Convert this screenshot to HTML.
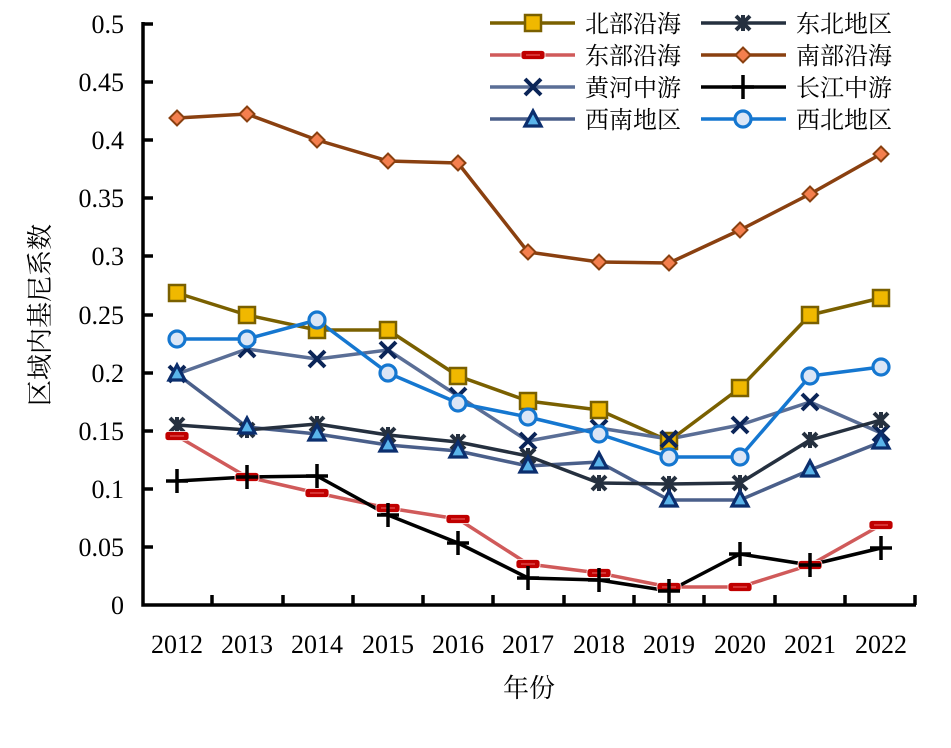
<!DOCTYPE html><html><head><style>body{margin:0;background:#fff}svg{display:block}text{font-family:"Liberation Serif","Noto Serif CJK SC",serif}</style></head><body>
<svg width="951" height="748" viewBox="0 0 951 748" xmlns="http://www.w3.org/2000/svg">
<defs>
<g id="sq"><rect x="-8" y="-8" width="16" height="16" fill="#f0b800" stroke="#7a6000" stroke-width="2.5"/></g>
<g id="dash"><rect x="-12" y="-4.5" width="24" height="9" rx="3" fill="#c00000" stroke="#fff" stroke-width="0.8"/><line x1="-7" y1="0" x2="7" y2="0" stroke="#ee6666" stroke-width="1"/></g>
<g id="dia"><polygon points="0,-7.5 7.5,0 0,7.5 -7.5,0" fill="#f47f4e" stroke="#8a4010" stroke-width="2"/></g>
<g id="xx"><path d="M-8,-8L8,8M8,-8L-8,8" stroke="#0b2558" stroke-width="4"/></g>
<g id="tri"><polygon points="0,-9 8,6 -8,6" fill="#5ab4ea" stroke="#0b2e6e" stroke-width="3.2"/></g>
<g id="ast"><path d="M-7,-7L7,7M7,-7L-7,7M0,-8V8" stroke="#25303f" stroke-width="4"/></g>
<g id="plus"><path d="M-11,0H11M0,-12V12" stroke="#000" stroke-width="3.5"/></g>
<g id="cir"><circle r="8" fill="#dbe6f6" stroke="#1577d0" stroke-width="3.2"/></g>
</defs>
<g fill="none" stroke-width="3.5" stroke-linejoin="round">
<polyline stroke="#7a6000" points="177,293 247,315 317,330 388,330 458,376 528,401 599,410 669,441 740,388 810,315 881,298"/>
<polyline stroke="#d05a5a" points="177,436 247,477 317,493 388,508 458,519 528,564 599,573 669,587 740,587 810,565 881,525"/>
<polyline stroke="#8a4010" points="177,118 247,114 317,140 388,161 458,163 528,252 599,262 669,263 740,230 810,194 881,154"/>
<polyline stroke="#5a6e96" points="177,374 247,349 317,359 388,350 458,396 528,441 599,428 669,439 740,425 810,402 881,433"/>
<polyline stroke="#4a5f8a" points="177,374 247,427 317,434 388,445 458,451 528,466 599,462 669,500 740,500 810,470 881,442"/>
<polyline stroke="#25303f" points="177,425 247,430 317,424 388,435 458,442 528,456 599,483 669,484 740,483 810,440 881,420"/>
<polyline stroke="#000" points="177,481 247,477 317,476 388,515 458,543 528,578 599,580 669,591 740,554 810,565 881,548"/>
<polyline stroke="#1577d0" points="177,339 247,339 317,320 388,373 458,403 528,417 599,434 669,457 740,457 810,376 881,367"/>
</g>
<g>
<use href="#sq" x="177" y="293"/><use href="#sq" x="247" y="315"/><use href="#sq" x="317" y="330"/><use href="#sq" x="388" y="330"/><use href="#sq" x="458" y="376"/><use href="#sq" x="528" y="401"/><use href="#sq" x="599" y="410"/><use href="#sq" x="669" y="441"/><use href="#sq" x="740" y="388"/><use href="#sq" x="810" y="315"/><use href="#sq" x="881" y="298"/>
<use href="#dia" x="177" y="118"/><use href="#dia" x="247" y="114"/><use href="#dia" x="317" y="140"/><use href="#dia" x="388" y="161"/><use href="#dia" x="458" y="163"/><use href="#dia" x="528" y="252"/><use href="#dia" x="599" y="262"/><use href="#dia" x="669" y="263"/><use href="#dia" x="740" y="230"/><use href="#dia" x="810" y="194"/><use href="#dia" x="881" y="154"/>
<use href="#xx" x="177" y="374"/><use href="#xx" x="247" y="349"/><use href="#xx" x="317" y="359"/><use href="#xx" x="388" y="350"/><use href="#xx" x="458" y="396"/><use href="#xx" x="528" y="441"/><use href="#xx" x="599" y="428"/><use href="#xx" x="669" y="439"/><use href="#xx" x="740" y="425"/><use href="#xx" x="810" y="402"/><use href="#xx" x="881" y="433"/>
<use href="#ast" x="177" y="425"/><use href="#ast" x="247" y="430"/><use href="#ast" x="317" y="424"/><use href="#ast" x="388" y="435"/><use href="#ast" x="458" y="442"/><use href="#ast" x="528" y="456"/><use href="#ast" x="599" y="483"/><use href="#ast" x="669" y="484"/><use href="#ast" x="740" y="483"/><use href="#ast" x="810" y="440"/><use href="#ast" x="881" y="420"/>
<use href="#tri" x="177" y="374"/><use href="#tri" x="247" y="427"/><use href="#tri" x="317" y="434"/><use href="#tri" x="388" y="445"/><use href="#tri" x="458" y="451"/><use href="#tri" x="528" y="466"/><use href="#tri" x="599" y="462"/><use href="#tri" x="669" y="500"/><use href="#tri" x="740" y="500"/><use href="#tri" x="810" y="470"/><use href="#tri" x="881" y="442"/>
<use href="#dash" x="177" y="436"/><use href="#dash" x="247" y="477"/><use href="#dash" x="317" y="493"/><use href="#dash" x="388" y="508"/><use href="#dash" x="458" y="519"/><use href="#dash" x="528" y="564"/><use href="#dash" x="599" y="573"/><use href="#dash" x="669" y="587"/><use href="#dash" x="740" y="587"/><use href="#dash" x="810" y="565"/><use href="#dash" x="881" y="525"/>
<use href="#plus" x="177" y="481"/><use href="#plus" x="247" y="477"/><use href="#plus" x="317" y="476"/><use href="#plus" x="388" y="515"/><use href="#plus" x="458" y="543"/><use href="#plus" x="528" y="578"/><use href="#plus" x="599" y="580"/><use href="#plus" x="669" y="591"/><use href="#plus" x="740" y="554"/><use href="#plus" x="810" y="565"/><use href="#plus" x="881" y="548"/>
<use href="#cir" x="177" y="339"/><use href="#cir" x="247" y="339"/><use href="#cir" x="317" y="320"/><use href="#cir" x="388" y="373"/><use href="#cir" x="458" y="403"/><use href="#cir" x="528" y="417"/><use href="#cir" x="599" y="434"/><use href="#cir" x="669" y="457"/><use href="#cir" x="740" y="457"/><use href="#cir" x="810" y="376"/><use href="#cir" x="881" y="367"/>
</g>
<g stroke="#000" stroke-width="3.5" fill="none">
<path d="M143,22V605H916"/>
<path d="M143,547h10M143,489h10M143,431h10M143,373h10M143,315h10M143,256h10M143,198h10M143,140h10M143,82h10M143,24h10"/>
<path d="M212,605v-10M283,605v-10M353,605v-10M423,605v-10M493,605v-10M564,605v-10M634,605v-10M704,605v-10M775,605v-10M845,605v-10M915,605v-10"/>
</g>
<g font-size="26" text-anchor="end" fill="#000">
<text x="124" y="614">0</text><text x="124" y="556">0.05</text><text x="124" y="498">0.1</text><text x="124" y="440">0.15</text><text x="124" y="382">0.2</text><text x="124" y="324">0.25</text><text x="124" y="265">0.3</text><text x="124" y="207">0.35</text><text x="124" y="149">0.4</text><text x="124" y="91">0.45</text><text x="124" y="33">0.5</text>
</g>
<g font-size="26" text-anchor="middle">
<text x="177" y="653">2012</text><text x="247" y="653">2013</text><text x="317" y="653">2014</text><text x="388" y="653">2015</text><text x="458" y="653">2016</text><text x="528" y="653">2017</text><text x="599" y="653">2018</text><text x="669" y="653">2019</text><text x="740" y="653">2020</text><text x="810" y="653">2021</text><text x="881" y="653">2022</text>
<text x="529" y="697">年份</text>
<text transform="translate(49,315) rotate(-90)">区域内基尼系数</text>
</g>
<g stroke-width="3.5" fill="none">
<path d="M490,23H575" stroke="#7a6000"/><path d="M490,55H575" stroke="#d05a5a"/><path d="M490,87H575" stroke="#5a6e96"/><path d="M490,119H575" stroke="#4a5f8a"/>
<path d="M701,23H786" stroke="#25303f"/><path d="M701,55H786" stroke="#8a4010"/><path d="M701,87H786" stroke="#000"/><path d="M701,119H786" stroke="#1577d0"/>
</g>
<use href="#sq" x="533" y="23"/><use href="#dash" x="533" y="55"/><use href="#xx" x="533" y="87"/><use href="#tri" x="533" y="120"/>
<use href="#ast" x="743" y="23"/><use href="#dia" x="743" y="55"/><use href="#plus" x="743" y="87"/><use href="#cir" x="743" y="119"/>
<g font-size="24" fill="#000">
<text x="585" y="32">北部沿海</text><text x="585" y="64">东部沿海</text><text x="585" y="96">黄河中游</text><text x="585" y="128">西南地区</text>
<text x="796" y="32">东北地区</text><text x="796" y="64">南部沿海</text><text x="796" y="96">长江中游</text><text x="796" y="128">西北地区</text>
</g>
</svg></body></html>
